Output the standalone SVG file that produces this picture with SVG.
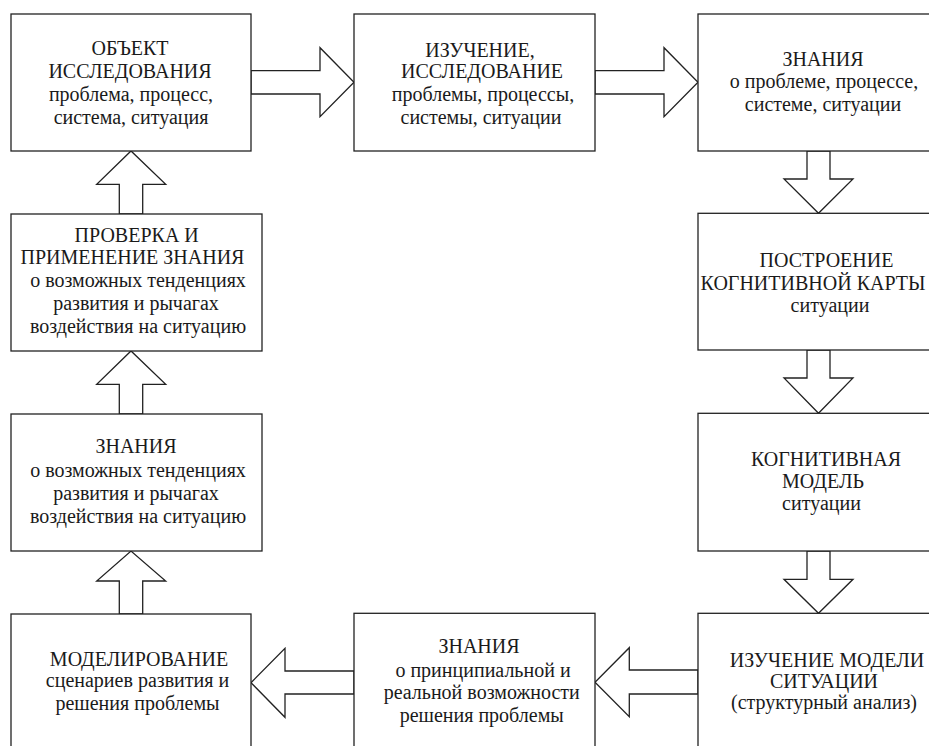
<svg xmlns="http://www.w3.org/2000/svg" width="929" height="746" viewBox="0 0 929 746">
<style>
.box{fill:#fff;stroke:#222;stroke-width:1.3}
.arr{fill:#fff;stroke:#222;stroke-width:1.3;stroke-linejoin:miter}
.t{font-family:'Times New Roman','Liberation Serif','DejaVu Serif',serif;font-size:20px;fill:#1a1a1a;text-anchor:middle}
.t2{font-family:'DejaVu Serif',serif}
</style>
<rect width="929" height="746" fill="#fff"/>
<g id="connectors">
<polygon class="arr" points="251,70.7 320,70.7 320,47.7 354,82.3 320,116.7 320,94 251,94"/>
<polygon class="arr" points="595,70.7 664,70.7 664,47.7 698,82.3 664,116.7 664,94 595,94"/>
<polygon class="arr" points="807,151 807,179 784,179 818.5,213.3 853,179 830,179 830,151"/>
<polygon class="arr" points="807,350 807,378 784,378 818.5,413.3 853,378 830,378 830,350"/>
<polygon class="arr" points="807,551 807,579.3 784,579.3 818.5,613.3 853,579.3 830,579.3 830,551"/>
<polygon class="arr" points="698,670 629.3,670 629.3,647.7 595,682.2 629.3,716.7 629.3,694 698,694"/>
<polygon class="arr" points="354,671 285,671 285,648.3 251,682.7 285,717.3 285,694 354,694"/>
<polygon class="arr" points="119.3,614 119.3,581 96.7,581 131,551 165.7,581 142.7,581 142.7,614"/>
<polygon class="arr" points="119.3,414 119.3,384.3 96.7,384.3 131,351 165.7,384.3 142.7,384.3 142.7,414"/>
<polygon class="arr" points="119.3,214 119.3,184.3 96.7,184.3 131,151 165.7,184.3 142.7,184.3 142.7,214"/>
</g>
<g id="n1">
<rect class="box" x="11" y="14" width="240" height="137"/>
<text class="t" x="130" y="54.5">ОБЪЕКТ</text>
<text class="t" x="130" y="77.7">ИССЛЕДОВАНИЯ</text>
<text class="t" x="131" y="100.5">проблема, процесс,</text>
<text class="t" x="131" y="123.5">система, ситуация</text>
</g>
<g id="n2">
<rect class="box" x="354" y="14" width="241" height="137"/>
<text class="t" x="480" y="56.7">ИЗУЧЕНИЕ,</text>
<text class="t" x="482" y="77.5">ИССЛЕДОВАНИЕ</text>
<text class="t" x="483" y="100.5">проблемы, процессы,</text>
<text class="t" x="481" y="123.5">системы, ситуации</text>
</g>
<g id="n3">
<rect class="box" x="698" y="14" width="260" height="137"/>
<text class="t" x="823" y="66">ЗНАНИЯ</text>
<text class="t" x="824" y="88">о проблеме, процессе,</text>
<text class="t" x="823" y="111">системе, ситуации</text>
</g>
<g id="n4">
<rect class="box" x="698" y="213.3" width="260" height="136.7"/>
<text class="t" x="826.5" y="266.7">ПОСТРОЕНИЕ</text>
<text class="t" x="813" y="290">КОГНИТИВНОЙ КАРТЫ</text>
<text class="t" x="830" y="311.7">ситуации</text>
</g>
<g id="n5">
<rect class="box" x="698" y="413.3" width="260" height="137.7"/>
<text class="t" x="826" y="466">КОГНИТИВНАЯ</text>
<text class="t" x="823" y="488.3">МОДЕЛЬ</text>
<text class="t" x="821.5" y="510">ситуации</text>
</g>
<g id="n6">
<rect class="box" x="698" y="613.3" width="260" height="160"/>
<text class="t" x="827" y="666.7">ИЗУЧЕНИЕ МОДЕЛИ</text>
<text class="t" x="824" y="688.3">СИТУАЦИИ</text>
<text class="t" x="824" y="709">(структурный анализ)</text>
</g>
<g id="n7">
<rect class="box" x="354" y="613.3" width="241" height="160"/>
<text class="t" x="479" y="653.3">ЗНАНИЯ</text>
<text class="t" x="483" y="676.7">о принципиальной и</text>
<text class="t" x="481.7" y="699.3">реальной возможности</text>
<text class="t" x="481.7" y="721.7">решения проблемы</text>
</g>
<g id="n8">
<rect class="box" x="11" y="614" width="240" height="160"/>
<text class="t" x="139" y="666">МОДЕЛИРОВАНИЕ</text>
<text class="t" x="137.5" y="687.3">сценариев развития и</text>
<text class="t" x="137.5" y="710">решения проблемы</text>
</g>
<g id="n9">
<rect class="box" x="11" y="414" width="251" height="137"/>
<text class="t" x="136" y="453.3">ЗНАНИЯ</text>
<text class="t" x="138" y="476.7">о возможных тенденциях</text>
<text class="t" x="136" y="500">развития и рычагах</text>
<text class="t" x="138" y="523">воздействия на ситуацию</text>
</g>
<g id="n10">
<rect class="box" x="11" y="214" width="251" height="137"/>
<text class="t" x="136.7" y="241.7">ПРОВЕРКА И</text>
<text class="t" x="132.5" y="264.3">ПРИМЕНЕНИЕ ЗНАНИЯ</text>
<text class="t" x="138" y="287.3">о возможных тенденциях</text>
<text class="t" x="136" y="310">развития и рычагах</text>
<text class="t" x="138" y="333.3">воздействия на ситуацию</text>
</g>
</svg>
